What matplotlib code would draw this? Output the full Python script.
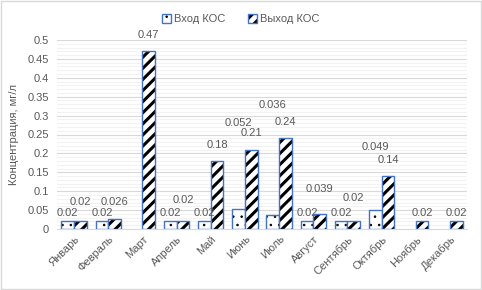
import matplotlib.pyplot as plt
import numpy as np
from matplotlib.patches import Rectangle
from matplotlib.ticker import MultipleLocator, FuncFormatter

plt.rcParams['font.family'] = ['Liberation Sans', 'DejaVu Sans']

# Данные
months = ["Январь", "Февраль", "Март", "Апрель", "Май", "Июнь",
          "Июль", "Август", "Сентябрь", "Октябрь", "Ноябрь", "Декабрь"]
vhod = [0.02, 0.02, np.nan, 0.02, 0.02, 0.052, 0.036, 0.02, 0.02, 0.049, np.nan, np.nan]
vyhod = [0.02, 0.026, 0.47, 0.02, 0.18, 0.21, 0.24, 0.039, 0.02, 0.14, 0.02, 0.02]

# положение подписей (сдвинуты вручную, как в исходнике)
lbl_vhod_y = [0.042, 0.042, None, 0.042, 0.042, 0.28, 0.328, 0.042, 0.042, 0.217, None, None]
lbl_vyhod_y = [0.071, 0.071, 0.513, 0.077, 0.222, 0.254, 0.283, 0.106, 0.082, 0.183, 0.042, 0.042]

grey = '#595959'
blue = '#4472C4'

fig = plt.figure(figsize=(4.82, 2.90), dpi=100)
ax = fig.add_axes([57/482, 1 - 229/290, 410/482, 189/290])

x = np.arange(len(months))
w = 0.37
plt.rcParams['hatch.linewidth'] = 0.6
b1 = ax.bar(x - w/2, vhod, w, color='white', edgecolor=blue, hatch='..',
            linewidth=1.0, label="Вход КОС", zorder=3)
plt.rcParams['hatch.linewidth'] = 2.2
b2 = ax.bar(x + w/2, vyhod, w, color='white', edgecolor=blue, hatch='///',
            linewidth=1.0, label="Выход КОС", zorder=3)
for bar in list(b1) + list(b2):
    bar._hatch_color = (0, 0, 0, 1)

for i in range(len(months)):
    if lbl_vhod_y[i] is not None:
        ax.text(x[i] - w/2, lbl_vhod_y[i], f"{vhod[i]:g}", ha='center', va='center',
                fontsize=8, color=grey, zorder=4)
    ax.text(x[i] + w/2, lbl_vyhod_y[i], f"{vyhod[i]:g}", ha='center', va='center',
            fontsize=8, color=grey, zorder=4)

ax.set_xlim(-0.5, len(months) - 0.5)
ax.set_ylim(0, 0.5)
ax.yaxis.set_major_locator(MultipleLocator(0.05))
ax.yaxis.set_minor_locator(MultipleLocator(0.01))
ax.yaxis.set_major_formatter(FuncFormatter(lambda v, p: f"{round(v, 2):g}"))
ax.grid(which='major', axis='y', color='#d9d9d9', linewidth=0.8, zorder=0)
ax.grid(which='minor', axis='y', color='#f2f2f2', linewidth=0.8, zorder=0)
ax.set_axisbelow(True)
for s in ['top', 'right', 'left']:
    ax.spines[s].set_visible(False)
ax.spines['bottom'].set_color('#d9d9d9')
ax.tick_params(axis='y', which='both', length=0, labelsize=8, labelcolor=grey, pad=6)
ax.tick_params(axis='x', length=0, labelsize=8, labelcolor=grey)
ax.set_xticks(x)
ax.set_xticklabels(months, rotation=45, ha='right', rotation_mode='anchor')
ax.set_ylabel("Концентрация, мг/л", fontsize=8, color=grey, labelpad=6)

leg = fig.legend(loc='upper center', bbox_to_anchor=(0.5, 0.985), ncol=2, frameon=False,
                 fontsize=8, labelcolor=grey, handlelength=0.8, handleheight=0.8,
                 columnspacing=2.0, handletextpad=0.3)
for h, lw in zip(leg.legend_handles, [0.6, 2.2]):
    h._hatch_color = (0, 0, 0, 1)
    if hasattr(h, 'set_hatch_linewidth'):
        h.set_hatch_linewidth(lw)
    else:
        h._hatch_linewidth = lw

fig.patches.append(Rectangle((0.002, 0.003), 0.995, 0.993, transform=fig.transFigure,
                             fill=False, edgecolor='#d9d9d9', linewidth=1))

fig.savefig("out.png", dpi=100)
